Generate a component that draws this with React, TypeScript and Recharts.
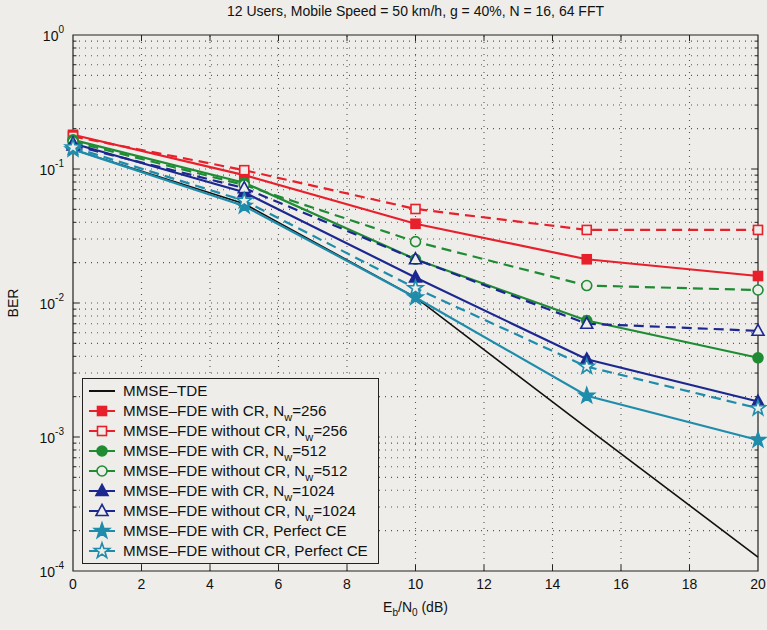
import { LineChart, Line, XAxis, YAxis, ReferenceLine, ReferenceArea, Legend } from "recharts";

// Eb/N0 points (dB)
const snr = [0, 5, 10, 15, 20];

// BER per receiver
const berTde = [0.14, 0.055, 0.011, 0.00117, 0.000127];
const berCr256 = [0.18, 0.09, 0.039, 0.0212, 0.0159];
const berNoCr256 = [0.175, 0.098, 0.0503, 0.0351, 0.0351];
const berCr512 = [0.165, 0.079, 0.0212, 0.0074, 0.0039];
const berNoCr512 = [0.16, 0.076, 0.0287, 0.0135, 0.0125];
const berCr1024 = [0.155, 0.067, 0.0155, 0.0038, 0.00184];
const berNoCr1024 = [0.15, 0.072, 0.0212, 0.007, 0.0062];
const berCrPce = [0.14, 0.053, 0.011, 0.00203, 0.00095];
const berNoCrPce = [0.145, 0.058, 0.0129, 0.00335, 0.00164];

const xTicks = [0, 2, 4, 6, 8, 10, 12, 14, 16, 18, 20];
const decades = [1e-4, 1e-3, 1e-2, 1e-1, 1];

const BG = "#eeede9";
const FONT = '"Liberation Sans", Arial, Helvetica, sans-serif';
const RED = "#e8202c";
const GREEN = "#1f8c34";
const BLUE = "#1c2890";
const CYAN = "#1f8cab";

type Kind = "none" | "square" | "circle" | "triangle" | "star";

const series = [
  { key: "tde", name: "MMSE–TDE", sub: "", tail: "", color: "#111", dashed: false, kind: "none" as Kind, filled: true, values: berTde },
  { key: "cr256", name: "MMSE–FDE with CR, N", sub: "w", tail: "=256", color: RED, dashed: false, kind: "square" as Kind, filled: true, values: berCr256 },
  { key: "nocr256", name: "MMSE–FDE without CR, N", sub: "w", tail: "=256", color: RED, dashed: true, kind: "square" as Kind, filled: false, values: berNoCr256 },
  { key: "cr512", name: "MMSE–FDE with CR, N", sub: "w", tail: "=512", color: GREEN, dashed: false, kind: "circle" as Kind, filled: true, values: berCr512 },
  { key: "nocr512", name: "MMSE–FDE without CR, N", sub: "w", tail: "=512", color: GREEN, dashed: true, kind: "circle" as Kind, filled: false, values: berNoCr512 },
  { key: "cr1024", name: "MMSE–FDE with CR, N", sub: "w", tail: "=1024", color: BLUE, dashed: false, kind: "triangle" as Kind, filled: true, values: berCr1024 },
  { key: "nocr1024", name: "MMSE–FDE without CR, N", sub: "w", tail: "=1024", color: BLUE, dashed: true, kind: "triangle" as Kind, filled: false, values: berNoCr1024 },
  { key: "crpce", name: "MMSE–FDE with CR, Perfect CE", sub: "", tail: "", color: CYAN, dashed: false, kind: "star" as Kind, filled: true, values: berCrPce },
  { key: "nocrpce", name: "MMSE–FDE without CR, Perfect CE", sub: "", tail: "", color: CYAN, dashed: true, kind: "star" as Kind, filled: false, values: berNoCrPce },
];

const data = snr.map((x, i) => {
  const row: Record<string, number> = { snr: x };
  series.forEach((s) => (row[s.key] = s.values[i]));
  return row;
});

// log grid: 1..9 in every decade
const logValues: number[] = [];
decades.slice(0, -1).forEach((d) => {
  for (let m = 1; m <= 9; m++) logValues.push(m * d);
});
logValues.push(1);
const innerGrid = logValues.filter((v) => v > 1e-4 && v < 1);
const isDecade = (v: number) => Math.abs(Math.log10(v) - Math.round(Math.log10(v))) < 1e-6;

const starPoints = (cx: number, cy: number, ro: number, ri: number) => {
  const pts: string[] = [];
  for (let k = 0; k < 10; k++) {
    const r = k % 2 === 0 ? ro : ri;
    const a = -Math.PI / 2 + (k * Math.PI) / 5;
    pts.push(`${cx + r * Math.cos(a)},${cy + r * Math.sin(a)}`);
  }
  return pts.join(" ");
};

const Marker = ({ kind, cx, cy, color, filled }: { kind: Kind; cx: number; cy: number; color: string; filled: boolean }) => {
  const fill = filled ? color : BG;
  const common = { fill, stroke: color, strokeWidth: 1.6 };
  if (kind === "square") return <rect x={cx - 4.5} y={cy - 4.5} width={9} height={9} {...common} />;
  if (kind === "circle") return <circle cx={cx} cy={cy} r={5} {...common} />;
  if (kind === "triangle")
    return <polygon points={`${cx},${cy - 6.5} ${cx + 6},${cy + 4.5} ${cx - 6},${cy + 4.5}`} {...common} />;
  if (kind === "star") return <polygon points={starPoints(cx, cy, 8, 3.2)} {...common} />;
  return <g />;
};

const LegendBox = () => (
  <svg width={297} height={186} style={{ display: "block" }}>
    <rect x={0.5} y={0.5} width={296} height={185} fill={BG} stroke="#222" />
    {series.map((s, i) => {
      const y = 13 + i * 20;
      return (
        <g key={s.key}>
          <line x1={7} x2={33} y1={y} y2={y} stroke={s.color} strokeWidth={2} strokeDasharray={s.dashed ? "10 6" : undefined} />
          <Marker kind={s.kind} cx={20} cy={y} color={s.color} filled={s.filled} />
          <text x={41} y={y} dy="0.35em" fontSize={15.2} fill="#111">
            {s.name}
            {s.sub && (
              <tspan dy={5} fontSize={11}>
                {s.sub}
              </tspan>
            )}
            {s.tail && <tspan dy={-5}>{s.tail}</tspan>}
          </text>
        </g>
      );
    })}
  </svg>
);

const YTick = ({ x, y, payload }: any) => {
  const exp = Math.round(Math.log10(payload.value));
  return (
    <text x={x} y={y} textAnchor="end" fontSize={14} fill="#111">
      <tspan dy="0.45em">10</tspan>
      <tspan dy="-0.85em" fontSize={10}>
        {exp}
      </tspan>
    </text>
  );
};

const XLabel = ({ viewBox }: any) => {
  const cx = viewBox ? viewBox.x + viewBox.width / 2 : 415;
  return (
    <text x={cx} y={612} textAnchor="middle" fontSize={14} fill="#111">
      E<tspan dy={4} fontSize={10}>b</tspan>
      <tspan dy={-4}>/N</tspan>
      <tspan dy={4} fontSize={10}>0</tspan>
      <tspan dy={-4}> (dB)</tspan>
    </text>
  );
};

const YLabel = ({ viewBox }: any) => {
  const x = 18;
  const y = viewBox ? viewBox.y + viewBox.height / 2 : 303;
  return (
    <text x={x} y={y} transform={`rotate(-90 ${x} ${y})`} textAnchor="middle" fontSize={14} fill="#111">
      BER
    </text>
  );
};

const dotted = { stroke: "#555", strokeDasharray: "1 5", strokeWidth: 1.1 };
const tickStyle = { stroke: "#222", strokeWidth: 1 };

export default function App() {
  return (
    <div style={{ position: "absolute", left: 0, top: 0, width: 767, height: 630, background: BG, fontFamily: FONT }}>
      <div style={{ position: "absolute", left: 73, width: 685, top: 3, textAlign: "center", fontSize: 14, color: "#111" }}>
        12 Users, Mobile Speed = 50 km/h, g = 40%, N = 16, 64 FFT
      </div>
      <LineChart width={767} height={630} data={data} margin={{ top: 35, right: 9, bottom: 29, left: 13 }}>
        <XAxis
          dataKey="snr"
          type="number"
          domain={[0, 20]}
          ticks={xTicks}
          axisLine={false}
          tickLine={false}
          height={30}
          tick={{ fontSize: 14, fill: "#111" }}
          label={{ content: XLabel }}
        />
        <YAxis
          scale="log"
          type="number"
          domain={[1e-4, 1]}
          ticks={decades}
          allowDataOverflow
          axisLine={false}
          tickLine={false}
          width={60}
          tickMargin={3}
          tick={YTick}
          label={{ content: YLabel }}
        />
        {xTicks.slice(1, -1).map((v) => (
          <ReferenceLine key={`gx${v}`} x={v} {...dotted} />
        ))}
        {innerGrid.map((v) => (
          <ReferenceLine key={`gy${v}`} y={v} {...dotted} />
        ))}
        {xTicks.slice(1, -1).map((v) => (
          <ReferenceLine key={`tb${v}`} segment={[{ x: v, y: 1e-4 }, { x: v, y: 1.11e-4 }]} {...tickStyle} />
        ))}
        {xTicks.slice(1, -1).map((v) => (
          <ReferenceLine key={`tt${v}`} segment={[{ x: v, y: 1 }, { x: v, y: 0.9 }]} {...tickStyle} />
        ))}
        {innerGrid.map((v) => {
          const len = isDecade(v) ? 0.18 : 0.1;
          return (
            <ReferenceLine key={`tl${v}`} segment={[{ x: 0, y: v }, { x: len, y: v }]} {...tickStyle} />
          );
        })}
        {innerGrid.map((v) => {
          const len = isDecade(v) ? 0.18 : 0.1;
          return (
            <ReferenceLine key={`tr${v}`} segment={[{ x: 20, y: v }, { x: 20 - len, y: v }]} {...tickStyle} />
          );
        })}
        <ReferenceArea x1={0} x2={20} y1={1e-4} y2={1} fill="none" stroke="#222" strokeWidth={1.2} />
        {series.map((s) => (
          <Line
            key={s.key}
            dataKey={s.key}
            type="linear"
            stroke={s.color}
            strokeWidth={s.kind === "none" ? 1.6 : 2.2}
            strokeDasharray={s.dashed ? "10 6" : undefined}
            isAnimationActive={false}
            dot={
              s.kind === "none"
                ? false
                : (p: any) => (
                    <Marker key={`${s.key}-${p.index}`} kind={s.kind} cx={p.cx} cy={p.cy} color={s.color} filled={s.filled} />
                  )
            }
            activeDot={false}
          />
        ))}
        <Legend
          content={() => <LegendBox />}
          layout="horizontal"
          verticalAlign="middle"
          align="center"
          wrapperStyle={{ left: 82, top: 378, width: 297, height: 186 }}
        />
      </LineChart>
    </div>
  );
}
